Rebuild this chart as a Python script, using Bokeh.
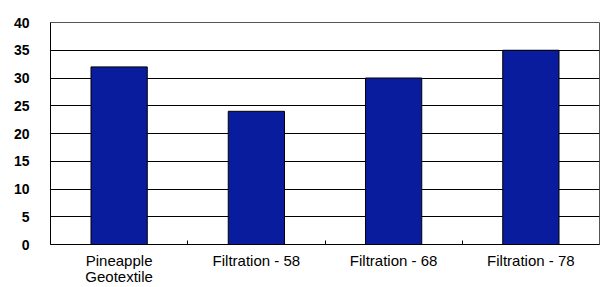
from bokeh.plotting import figure
from bokeh.models import FixedTicker, Range1d
from bokeh.embed import file_html
from bokeh.resources import INLINE

categories = ["Pineapple\nGeotextile", "Filtration - 58", "Filtration - 68", "Filtration - 78"]
values = [32, 24, 30, 35]
y_ticks = [0, 5, 10, 15, 20, 25, 30, 35, 40]

centers = [i + 0.5 for i in range(len(categories))]
bounds = [i for i in range(1, len(categories))]

p = figure(width=600, height=287, output_backend="svg", toolbar_location=None,
           x_range=Range1d(0, len(categories)), y_range=Range1d(0, 40),
           min_border_left=50, min_border_right=1, min_border_top=22, min_border_bottom=41)

p.vbar(x=centers, top=values, width=0.41, fill_color="#0A1C9E", line_color="#000000", line_width=1)

p.outline_line_color = "#555555"
p.outline_line_width = 1
p.background_fill_color = "white"
p.border_fill_color = "white"

p.xgrid.visible = False
p.ygrid.ticker = FixedTicker(ticks=y_ticks)
p.ygrid.grid_line_color = "#000000"
p.ygrid.grid_line_width = 1

p.yaxis.ticker = FixedTicker(ticks=y_ticks)
p.yaxis.major_tick_line_color = None
p.yaxis.minor_tick_line_color = None
p.yaxis.axis_line_color = "#000000"
p.yaxis.major_label_text_font = "Liberation Sans"
p.yaxis.major_label_text_font_size = "14px"
p.yaxis.major_label_text_font_style = "bold"
p.yaxis.major_label_text_color = "#000000"
p.yaxis.major_label_standoff = 15

p.xaxis.ticker = FixedTicker(ticks=centers, minor_ticks=bounds)
p.xaxis.major_label_overrides = {c: lab for c, lab in zip(centers, categories)}
p.xaxis.major_tick_line_color = None
p.xaxis.major_tick_in = 0
p.xaxis.major_tick_out = 0
p.xaxis.minor_tick_in = 4
p.xaxis.minor_tick_out = 0
p.xaxis.minor_tick_line_color = "#000000"
p.xaxis.axis_line_color = "#000000"
p.xaxis.major_label_text_font = "Liberation Sans"
p.xaxis.major_label_text_font_size = "15px"
p.xaxis.major_label_text_line_height = 0.95
p.xaxis.major_label_text_color = "#000000"
p.xaxis.major_label_standoff = 7

open("out.html", "w").write(file_html(p, INLINE))
